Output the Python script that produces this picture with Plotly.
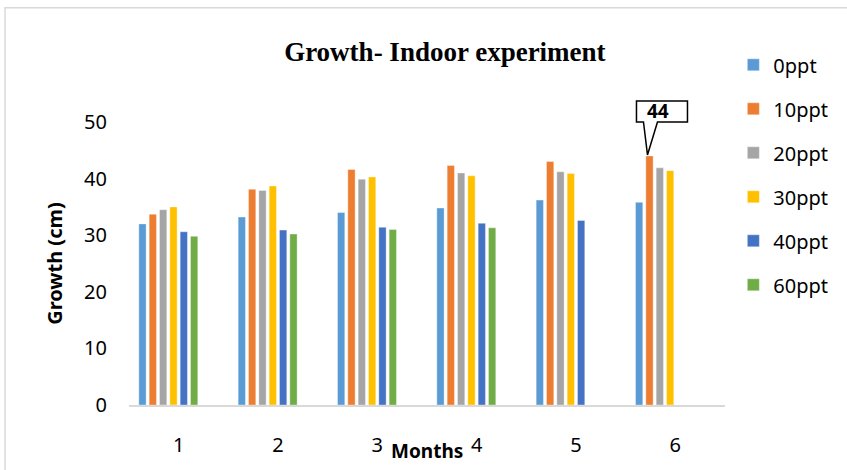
import plotly.graph_objects as go

# Monthly growth (cm) by salinity treatment
months = [1, 2, 3, 4, 5, 6]
series_names = ["0ppt", "10ppt", "20ppt", "30ppt", "40ppt", "60ppt"]
growth_0ppt = [32.0, 33.2, 34.0, 34.8, 36.2, 35.8]
growth_10ppt = [33.7, 38.1, 41.6, 42.3, 43.0, 44.0]
growth_20ppt = [34.5, 37.9, 39.9, 41.0, 41.2, 41.9]
growth_30ppt = [35.0, 38.7, 40.3, 40.5, 40.9, 41.4]
growth_40ppt = [30.6, 30.9, 31.4, 32.1, 32.6, None]
growth_60ppt = [29.8, 30.2, 31.0, 31.3, None, None]
series_values = [growth_0ppt, growth_10ppt, growth_20ppt,
                 growth_30ppt, growth_40ppt, growth_60ppt]
colors = ["#5B9BD5", "#ED7D31", "#A5A5A5", "#FFC000", "#4472C4", "#70AD47"]

# callout on the 10ppt bar of month 6
callout_series = 1
callout_month_index = 5

x_range = [0.5, 6.5]
y_range = [0, 50]

# bar layout within each month (8 slots per month, 6 used)
slot = 0.104
bar_w = 0.0734
group_start = -0.401

fig = go.Figure()
for i, (name, vals, col) in enumerate(zip(series_names, series_values, colors)):
    fig.add_trace(go.Bar(
        x=months, y=vals, name=name,
        marker=dict(color=col, line=dict(width=0.6, color="rgba(255,255,255,0.6)")),
        width=bar_w, offset=group_start + i * slot,
        legendgroup=name,
    ))

font_family = "Noto Sans"

# callout anchor: top centre of the labelled bar, in paper fractions
cx = months[callout_month_index] + group_start + callout_series * slot + bar_w / 2
cy = series_values[callout_series][callout_month_index]
px_ = (cx - x_range[0]) / (x_range[1] - x_range[0])
py_ = (cy - y_range[0]) / (y_range[1] - y_range[0])

shapes = [
    # chart border
    dict(type="rect", xref="paper", yref="paper",
         x0=-0.208, x1=1.3, y0=-0.5, y1=1.4035,
         line=dict(color="#D9D9D9", width=1.5), fillcolor="rgba(0,0,0,0)"),
    # callout box with pointer
    dict(type="path", xref="paper", yref="paper",
         xsizemode="pixel", ysizemode="pixel", xanchor=px_, yanchor=py_,
         path="M -2,1 L -6,34 L -13,34 L -13,55 L 38,55 L 38,34 L 8,34 Z",
         line=dict(color="black", width=1.5), fillcolor="white"),
]

fig.update_layout(
    width=847, height=470,
    margin=dict(l=129, r=122, t=122, b=63),
    paper_bgcolor="white", plot_bgcolor="white",
    barmode="group",
    font=dict(family=font_family, size=20, color="#000000"),
    title=dict(text="<b>Growth- Indoor experiment</b>",
               font=dict(family="Liberation Serif", size=27, color="#000000"),
               x=0.530, xref="paper", xanchor="center",
               y=1 - 52 / 470, yref="container", yanchor="middle"),
    xaxis=dict(range=x_range, tickvals=months, ticktext=[str(m) for m in months],
               showgrid=False, zeroline=False, showline=True,
               linecolor="#D9D9D9", linewidth=1.5, ticks="",
               ticklabelstandoff=21),
    yaxis=dict(range=y_range, tickvals=[0, 10, 20, 30, 40, 50],
               showgrid=False, zeroline=False, showline=False, ticks="",
               ticklabelstandoff=21,
               title=dict(text="<b>Growth (cm)</b>", font=dict(size=20), standoff=16)),
    legend=dict(x=1.014, xanchor="left", y=1.271, yanchor="top",
                traceorder="grouped", tracegroupgap=15, maxheight=400,
                font=dict(size=20), bgcolor="rgba(0,0,0,0)"),
    shapes=shapes,
    annotations=[
        dict(x=px_, y=py_, xref="paper", yref="paper", text="<b>44</b>",
             showarrow=False, xshift=9, yshift=45,
             font=dict(size=19, color="black"),
             xanchor="center", yanchor="middle"),
        dict(x=0.5, y=-0.1614, xref="paper", yref="paper", text="<b>Months</b>",
             showarrow=False, font=dict(size=19, color="black"),
             xanchor="center", yanchor="middle"),
    ],
)

fig.write_html("out.html")
